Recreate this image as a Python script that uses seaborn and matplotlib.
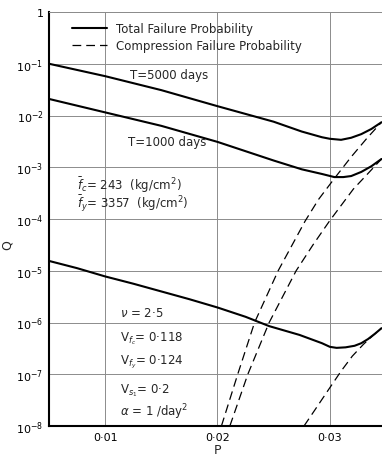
import numpy as np
import pandas as pd
import matplotlib
matplotlib.use("Agg")
import matplotlib.pyplot as plt
from matplotlib.lines import Line2D
import seaborn as sns

# ---- data (P, log10 Q) ----
p_5000 = [0.005, 0.010, 0.015, 0.020, 0.025, 0.0275, 0.0293, 0.0300, 0.0310, 0.0319, 0.0328, 0.0337, 0.0346]
lq_5000 = [-1.00, -1.24, -1.51, -1.82, -2.12, -2.31, -2.42, -2.45, -2.47, -2.43, -2.36, -2.26, -2.13]

p_1000 = [0.005, 0.010, 0.015, 0.020, 0.025, 0.0275, 0.0293, 0.0304, 0.0312, 0.0319, 0.0328, 0.0337, 0.0346]
lq_1000 = [-1.68, -1.94, -2.20, -2.51, -2.87, -3.04, -3.13, -3.19, -3.19, -3.17, -3.09, -2.98, -2.84]

p_low = [0.005, 0.0075, 0.010, 0.0125, 0.015, 0.0175, 0.020, 0.0225, 0.0246, 0.0273, 0.0293,
         0.0300, 0.0306, 0.0314, 0.0322, 0.0328, 0.0334, 0.0340, 0.0346]
lq_low = [-4.81, -4.95, -5.11, -5.25, -5.40, -5.55, -5.71, -5.89, -6.07, -6.24, -6.40,
          -6.47, -6.49, -6.48, -6.45, -6.40, -6.32, -6.22, -6.11]

# compression failure curves (dashed)
p_c5000 = [0.02035, 0.0218, 0.0233, 0.0254, 0.0278, 0.0290, 0.0305, 0.0319, 0.0333, 0.0346]
lq_c5000 = [-8.0, -7.0, -6.0, -5.0, -4.04, -3.62, -3.19, -2.80, -2.44, -2.13]

p_c1000 = [0.0211, 0.0227, 0.0246, 0.0270, 0.0285, 0.0300, 0.0321, 0.0334, 0.0346]
lq_c1000 = [-8.0, -7.0, -6.0, -5.0, -4.5, -4.03, -3.42, -3.12, -2.84]

p_clow = [0.0277, 0.0287, 0.0300, 0.0310, 0.0320, 0.0330, 0.0340, 0.0346]
lq_clow = [-8.0, -7.68, -7.26, -6.94, -6.65, -6.42, -6.22, -6.11]

x_ticks = [0.01, 0.02, 0.03]
x_tick_labels = ["0·01", "0·02", "0·03"]
y_ticks = [1e-8, 1e-7, 1e-6, 1e-5, 1e-4, 1e-3, 1e-2, 1e-1, 1]
y_tick_labels = ["10$^{-8}$", "10$^{-7}$", "10$^{-6}$", "10$^{-5}$", "10$^{-4}$",
                 "10$^{-3}$", "10$^{-2}$", "10$^{-1}$", "1"]

sns.set_style("white")
plt.rcParams['font.family'] = ['DejaVu Sans']
plt.rcParams['mathtext.fontset'] = 'dejavusans'

fig = plt.figure(figsize=(3.82, 4.56), dpi=100)
ax = fig.add_axes([49 / 382, 29 / 456, 337 / 382, 414 / 456])

solid = [(p_5000, lq_5000), (p_1000, lq_1000), (p_low, lq_low)]
dashed = [(p_c5000, lq_c5000), (p_c1000, lq_c1000), (p_clow, lq_clow)]

for p, lq in solid:
    df = pd.DataFrame({"P": p, "Q": 10 ** np.array(lq)})
    sns.lineplot(data=df, x="P", y="Q", ax=ax, color="black", linewidth=1.5)
for p, lq in dashed:
    df = pd.DataFrame({"P": p, "Q": 10 ** np.array(lq)})
    sns.lineplot(data=df, x="P", y="Q", ax=ax, color="black", linewidth=0.9,
                 dashes=False, linestyle=(0, (7, 4)))

ax.set_yscale("log")
ax.set_xlim(0.005, 0.035)
ax.set_ylim(1e-8, 1)
ax.set_xticks(x_ticks)
ax.set_xticklabels(x_tick_labels)
ax.set_yticks(y_ticks)
ax.set_yticklabels(y_tick_labels)
ax.minorticks_off()
ax.tick_params(length=0, labelsize=8, pad=4, colors="black")

ax.grid(True, color="0.55", linewidth=0.7)
for s in ["left", "bottom"]:
    ax.spines[s].set_color("black")
    ax.spines[s].set_linewidth(1.5)
for s in ["top", "right"]:
    ax.spines[s].set_color("0.55")
    ax.spines[s].set_linewidth(0.7)

ax.set_xlabel("P", fontsize=9, labelpad=1)
ax.set_ylabel("Q", fontsize=9)
ax.yaxis.set_label_coords(-0.105, 0.44)

handles = [Line2D([], [], color="black", linewidth=1.5),
           Line2D([], [], color="black", linewidth=0.9, linestyle=(0, (7, 4)))]
ax.legend(handles, ["Total Failure Probability", "Compression Failure Probability"],
          loc="upper left", bbox_to_anchor=(0.068, 0.975), frameon=False,
          borderpad=0, borderaxespad=0, handlelength=3.0, handletextpad=0.7,
          labelspacing=0.35, fontsize=8.5)

txt = dict(transform=ax.transAxes, fontsize=8.5, va="center", ha="left")
ax.text(0.240, 0.848, "T=5000 days", **txt)
ax.text(0.234, 0.688, "T=1000 days", **txt)
ax.text(0.083, 0.585, r"$\bar{f}_c$= 243  (kg/cm$^2$)", **txt)
ax.text(0.083, 0.539, r"$\bar{f}_y$= 3357  (kg/cm$^2$)", **txt)
ax.text(0.211, 0.275, r"$\nu$ = 2·5", **txt)
ax.text(0.211, 0.213, r"V$_{f_c}$= 0·118", **txt)
ax.text(0.211, 0.155, r"V$_{f_y}$= 0·124", **txt)
ax.text(0.211, 0.087, r"V$_{s_1}$= 0·2", **txt)
ax.text(0.211, 0.036, r"$\alpha$ = 1 /day$^2$", **txt)

fig.savefig("out.png", dpi=100)
